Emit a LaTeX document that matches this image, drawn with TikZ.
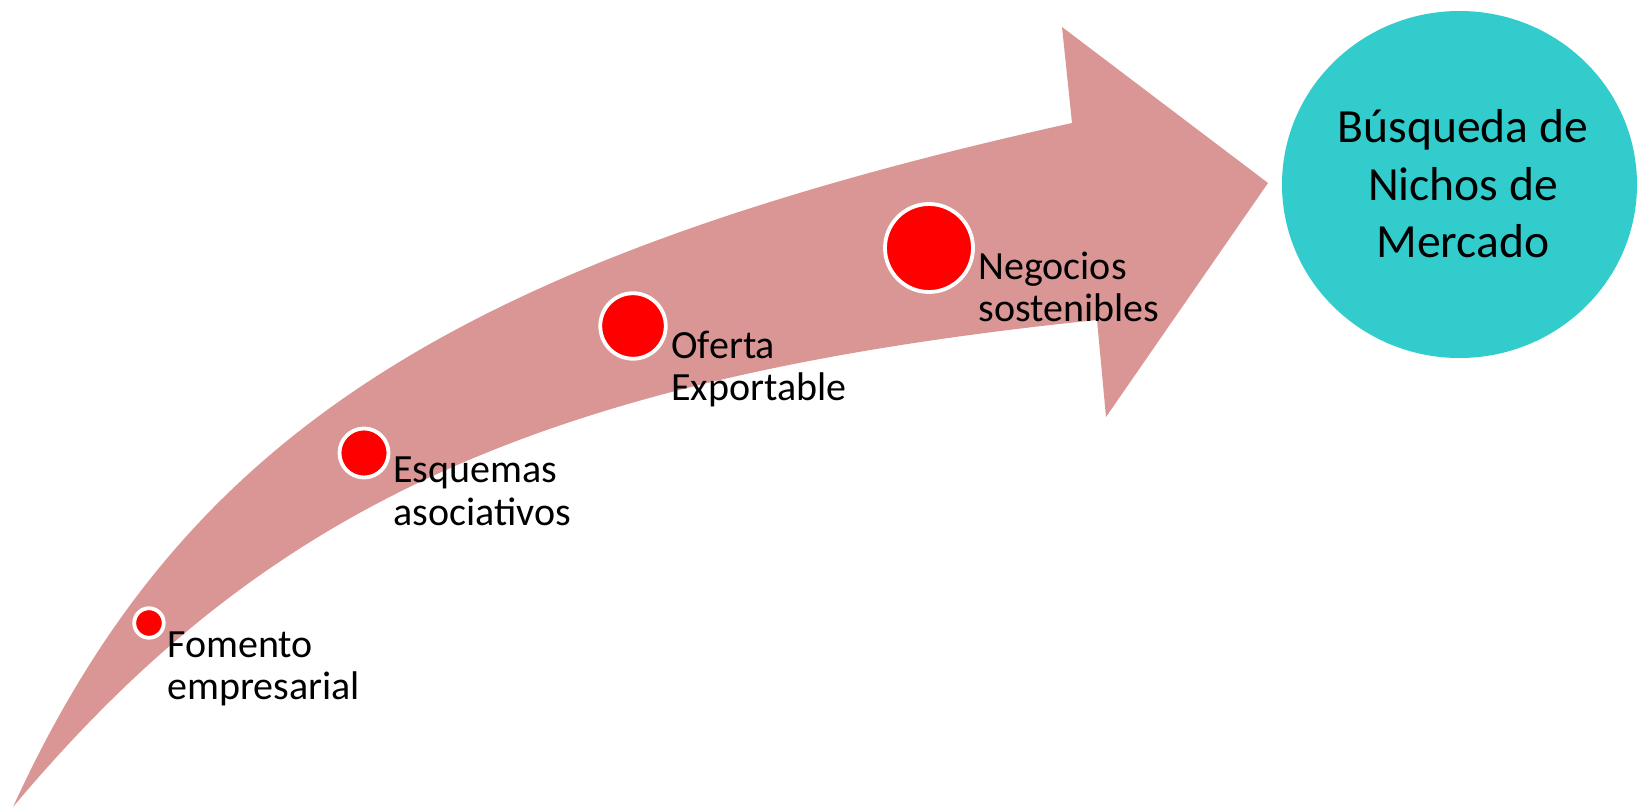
\documentclass[tikz,border=0pt]{standalone}
\usepackage{fontspec}
\setmainfont{Carlito}
\usetikzlibrary{shapes.geometric}
\definecolor{arrowpink}{HTML}{D99694}
\definecolor{goalteal}{HTML}{33CCCC}
\definecolor{dotred}{HTML}{FF0000}
\begin{document}
\begin{tikzpicture}[x=0.5pt,y=-0.5pt,
  dot/.style={circle, fill=dotred, draw=white, line width=1.9pt, inner sep=0pt},
  lbl/.style={anchor=base west, inner sep=0pt, font=\fontsize{20}{21}\selectfont},
  goal/.style={ellipse, fill=goalteal, draw=none, inner sep=0pt, minimum width=177.5pt, minimum height=173.5pt},
  goaltxt/.style={anchor=base, inner sep=0pt, font=\fontsize{23.8}{28.75}\selectfont}]
\useasboundingbox (0,0) rectangle (1639,807);
% curved arrow
\fill[arrowpink] (13,807) .. controls (180,442.5) and (445,262) .. (1072,123)
  -- (1062,27) -- (1268,183) -- (1106,417) -- (1097,320)
  .. controls (532,378) and (261,511.5) .. (13,807) -- cycle;
% milestone dots
\node[dot, minimum size=14.75pt] (d1) at (149,623) {};
\node[dot, minimum size=24.5pt] (d2) at (364,453) {};
\node[dot, minimum size=32.75pt] (d3) at (633,326) {};
\node[dot, minimum size=44pt] (d4) at (929,248) {};
% labels
\node[lbl] (l1) at (167,657) {\begin{tabular}[t]{@{}l@{}}Fomento\\empresarial\end{tabular}};
\node[lbl] (l2) at (393,483) {\begin{tabular}[t]{@{}l@{}}Esquemas\\asociativos\end{tabular}};
\node[lbl] (l3) at (671,359) {\begin{tabular}[t]{@{}l@{}}Oferta\\Exportable\end{tabular}};
\node[lbl] (l4) at (978,280) {\begin{tabular}[t]{@{}l@{}}Negocios\\sostenibles\end{tabular}};
% goal
\node[goal] (g) at (1459.5,184.5) {};
\node[goaltxt] (gt) at (1463,143) {\begin{tabular}[t]{@{}c@{}}Búsqueda de\\Nichos de\\Mercado\end{tabular}};
\end{tikzpicture}
\end{document}
